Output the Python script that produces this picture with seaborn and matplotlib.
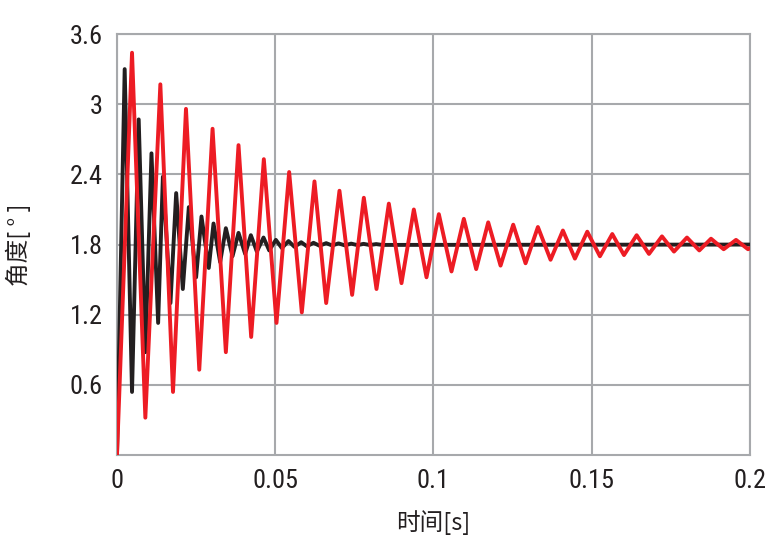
import pandas as pd
import numpy as np
import matplotlib
matplotlib.use("Agg")
import matplotlib.pyplot as plt
import seaborn as sns

# Values: turning points of each curve (time [s], angle [deg])
black_t = [0, 0.00243, 0.00475, 0.00686, 0.00896, 0.0109, 0.0130, 0.0145, 0.0169, 0.0187,
           0.0208, 0.0227, 0.0250, 0.0267, 0.0290, 0.0305, 0.0326, 0.0344, 0.0365, 0.0384,
           0.0405, 0.0423, 0.0442, 0.0463, 0.0481, 0.0502, 0.0521, 0.0542, 0.0561, 0.0582,
           0.0600, 0.0621, 0.0640, 0.0661, 0.0680, 0.0700, 0.0720, 0.0740, 0.0760, 0.0779,
           0.0799, 0.0819, 0.0838, 0.2]
black_v = [0, 3.30, 0.54, 2.87, 0.88, 2.58, 1.13, 2.38, 1.30, 2.24,
           1.42, 2.12, 1.52, 2.04, 1.60, 1.98, 1.65, 1.94, 1.70, 1.90,
           1.72, 1.88, 1.74, 1.86, 1.75, 1.84, 1.77, 1.83, 1.78, 1.82,
           1.785, 1.815, 1.79, 1.812, 1.792, 1.81, 1.793, 1.808, 1.795, 1.806,
           1.796, 1.804, 1.797, 1.80]

red_t = [0, 0.00475, 0.00896, 0.0137, 0.0177, 0.0218, 0.0260, 0.0302, 0.0344, 0.0384,
         0.0424, 0.0464, 0.0504, 0.0544, 0.0584, 0.0624, 0.0661, 0.0703, 0.0743, 0.0780,
         0.0820, 0.0859, 0.0899, 0.0938, 0.0978, 0.1017, 0.1057, 0.1096, 0.1135, 0.1173,
         0.1212, 0.1252, 0.1291, 0.1330, 0.1370, 0.1409, 0.1447, 0.1486, 0.1526, 0.1565,
         0.1602, 0.1642, 0.1681, 0.1722, 0.1760, 0.1801, 0.1840, 0.1877, 0.1917, 0.1956,
         0.1994, 0.2]
red_v = [0, 3.44, 0.32, 3.17, 0.54, 2.96, 0.73, 2.79, 0.88, 2.65,
         1.01, 2.53, 1.13, 2.42, 1.22, 2.34, 1.30, 2.26, 1.37, 2.20,
         1.42, 2.15, 1.47, 2.10, 1.52, 2.06, 1.57, 2.02, 1.59, 1.99,
         1.62, 1.97, 1.64, 1.95, 1.67, 1.92, 1.68, 1.91, 1.70, 1.89,
         1.71, 1.88, 1.72, 1.87, 1.74, 1.86, 1.75, 1.85, 1.76, 1.84,
         1.76, 1.77]

x_ticks = [0, 0.05, 0.1, 0.15, 0.2]
x_labels = ["0", "0.05", "0.1", "0.15", "0.2"]
y_ticks = [0.6, 1.2, 1.8, 2.4, 3.0, 3.6]
y_labels = ["0.6", "1.2", "1.8", "2.4", "3", "3.6"]

df = pd.concat([
    pd.DataFrame({"t": black_t, "angle": black_v, "series": "black"}),
    pd.DataFrame({"t": red_t, "angle": red_v, "series": "red"}),
], ignore_index=True)

sns.set_style("white")
plt.rcParams["font.family"] = ["Roboto Condensed", "Liberation Sans Narrow", "Roboto", "DejaVu Sans"]

grid_col = "#a7a9ac"
text_col = "#231f20"

fig = plt.figure(figsize=(7.82, 5.47), dpi=100)
ax = fig.add_axes([0.1496, 0.168, 0.8094, 0.7698])

sns.lineplot(
    data=df, x="t", y="angle", hue="series",
    palette={"black": "#231f20", "red": "#ed1c24"},
    hue_order=["black", "red"],
    linewidth=2.8, legend=False, ax=ax, sort=False,
)
for line in ax.get_lines():
    line.set_solid_joinstyle("round")
    line.set_zorder(3)

ax.set_xlim(0, 0.2)
ax.set_ylim(0, 3.6)
ax.set_xticks(x_ticks)
ax.set_xticklabels(x_labels)
ax.set_yticks(y_ticks)
ax.set_yticklabels(y_labels)
ax.tick_params(length=0, labelsize=19, colors=text_col, pad=10)

ax.grid(True, color=grid_col, linewidth=1.5)
ax.set_axisbelow(True)
for sp in ax.spines.values():
    sp.set_color(grid_col)
    sp.set_linewidth(1.5)

cjk = ["Noto Sans CJK SC", "DejaVu Sans"]
ax.set_xlabel("时间[s]", fontsize=17, family=cjk, color=text_col, labelpad=12)
ax.set_ylabel("角度[ ° ]", fontsize=17, family=cjk, color=text_col, labelpad=28)

fig.savefig("out.png", dpi=100)
